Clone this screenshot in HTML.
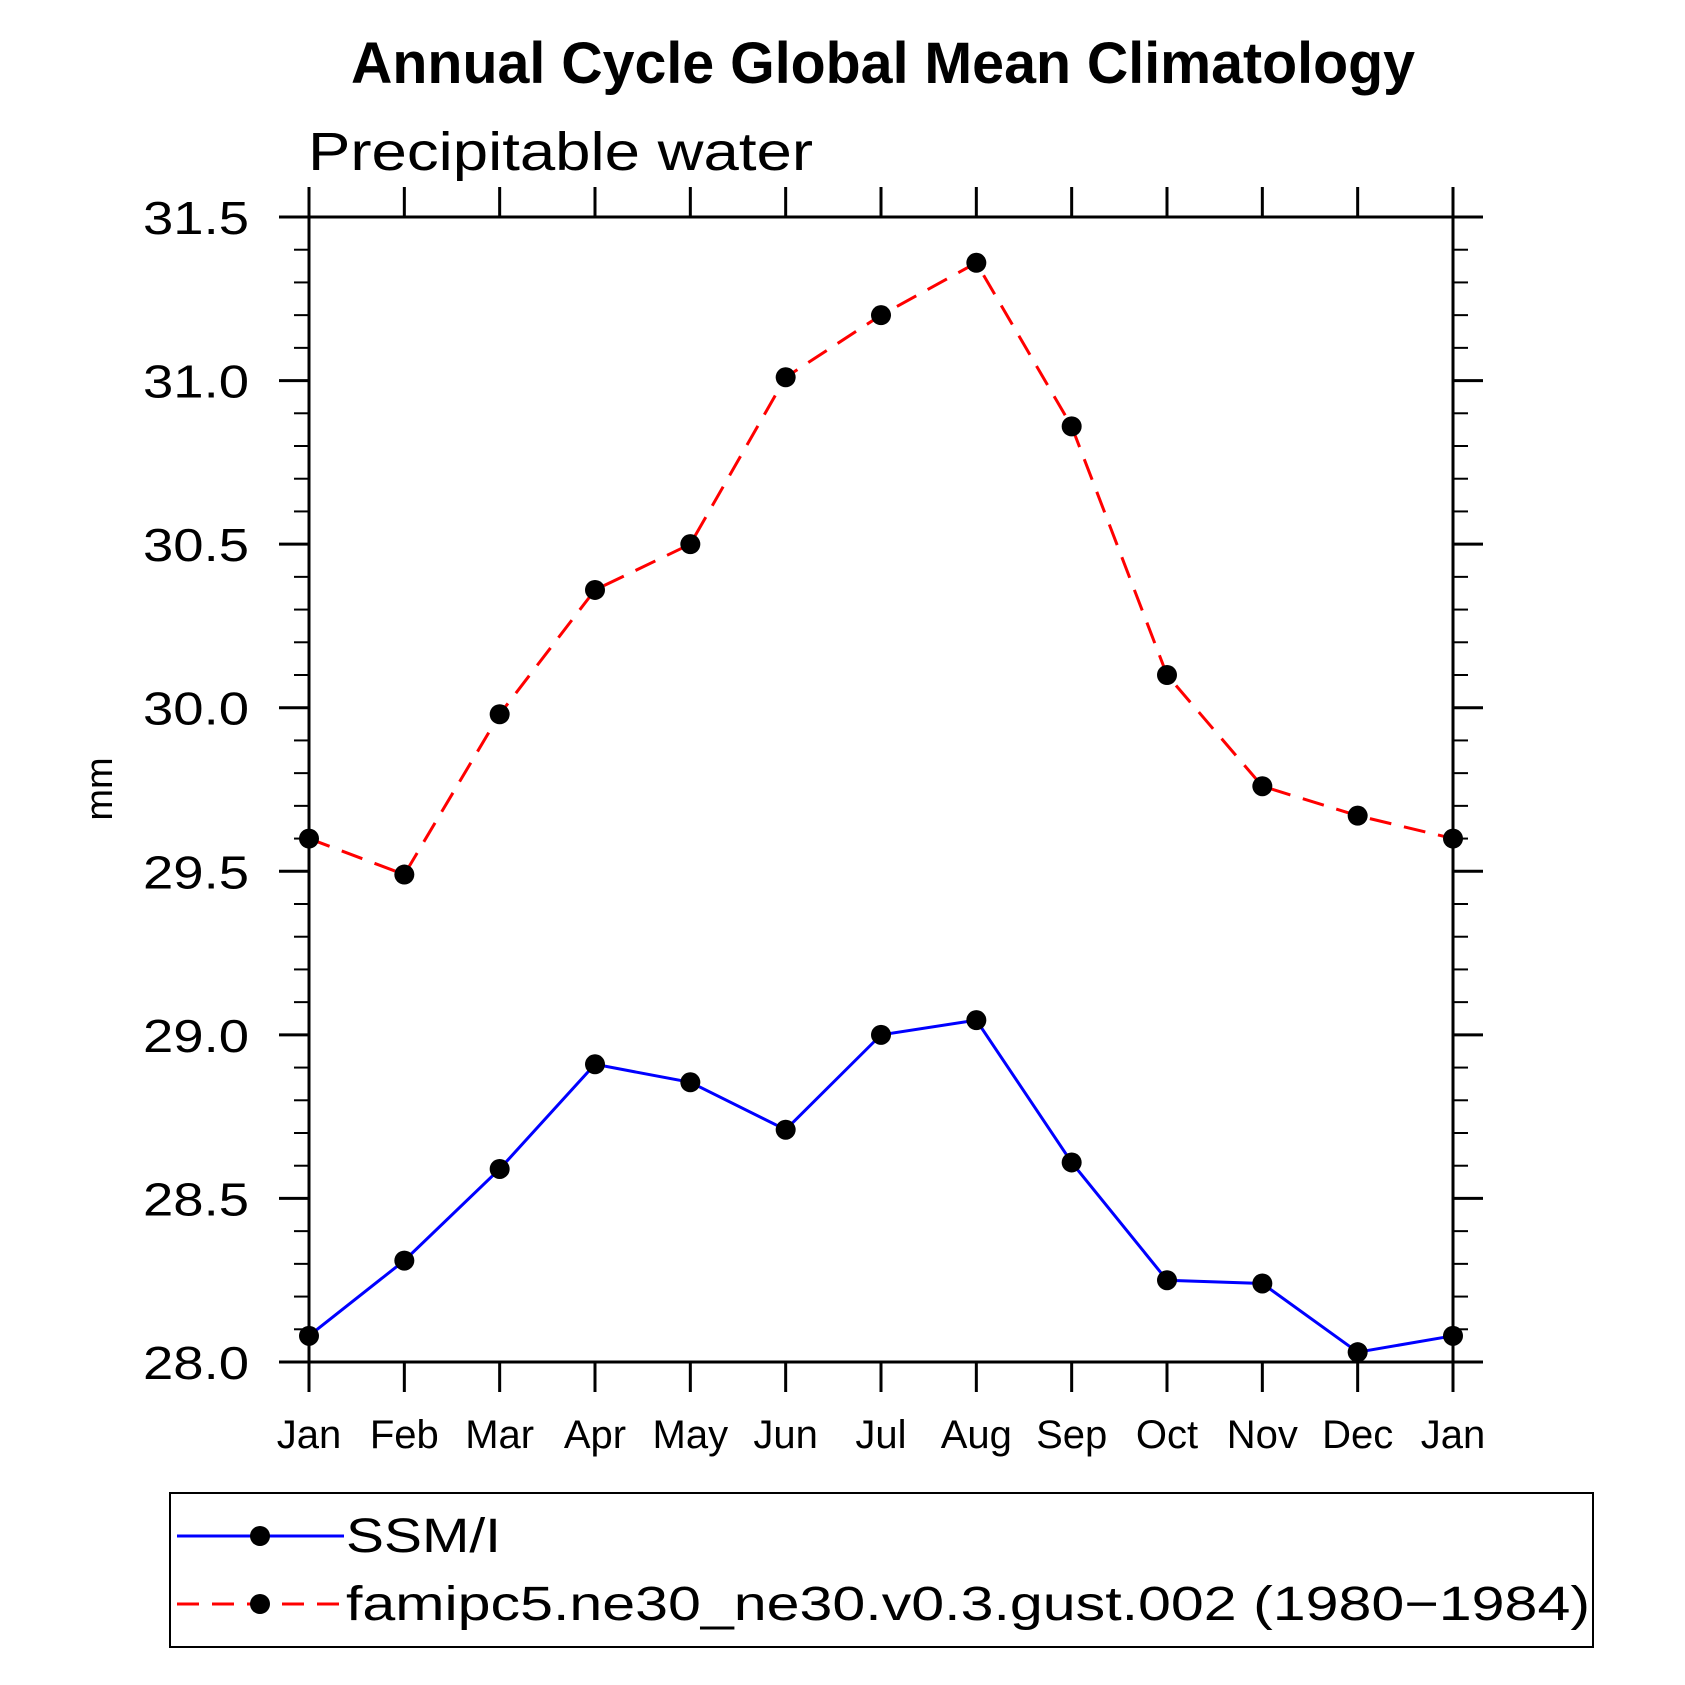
<!DOCTYPE html>
<html><head><meta charset="utf-8"><style>
html,body{margin:0;padding:0;background:#fff;}
svg{display:block;}
text{font-family:"Liberation Sans","DejaVu Sans",sans-serif;fill:#000;}
</style></head><body>
<svg id="chart" width="1685" height="1685" viewBox="0 0 1685 1685" xmlns="http://www.w3.org/2000/svg">
<text x="883" y="83" font-size="58" font-weight="bold" text-anchor="middle" textLength="1064" lengthAdjust="spacingAndGlyphs">Annual Cycle Global Mean Climatology</text>
<text x="308" y="170" font-size="54" textLength="505" lengthAdjust="spacingAndGlyphs" font-weight="300">Precipitable water</text>
<text transform="translate(112,789) rotate(-90)" font-size="38" text-anchor="middle">mm</text>
<g id="axes"></g>
<g id="series"></g>
<g id="legend">
<rect x="170" y="1493" width="1423" height="154" fill="none" stroke="#000" stroke-width="2"/>
<g>
<line x1="177" y1="1536" x2="344" y2="1536" stroke="#0000ff" stroke-width="3"/>
<circle cx="260" cy="1536" r="10" fill="#000"/>
<text x="346" y="1552" font-size="48" textLength="155" lengthAdjust="spacingAndGlyphs">SSM/I</text>
</g>
<g>
<line x1="177" y1="1604" x2="344" y2="1604" stroke="#ff0000" stroke-width="3" stroke-dasharray="22,13"/>
<circle cx="260" cy="1604" r="10" fill="#000"/>
<text x="346" y="1620" font-size="48" textLength="1244" lengthAdjust="spacingAndGlyphs">famipc5.ne30_ne30.v0.3.gust.002 (1980−1984)</text>
</g>
</g>
</svg>
<script>
const months = ["Jan","Feb","Mar","Apr","May","Jun","Jul","Aug","Sep","Oct","Nov","Dec","Jan"];
const ssmiValues = [28.08,28.31,28.59,28.91,28.855,28.71,29.00,29.045,28.61,28.25,28.24,28.03,28.08];
const modelValues = [29.60,29.49,29.98,30.36,30.50,31.01,31.20,31.36,30.86,30.10,29.76,29.67,29.60];
const yTickLabels = ["28.0","28.5","29.0","29.5","30.0","30.5","31.0","31.5"];
const yMin = 28.0, yMax = 31.5;

const NS = "http://www.w3.org/2000/svg";
const L = 309, R = 1453, T = 217, B = 1362;
function xScale(i){ return L + (R - L) * i / (months.length - 1); }
function yScale(v){ return B - (B - T) * (v - yMin) / (yMax - yMin); }
function mk(tag, attrs, parent){
  const e = document.createElementNS(NS, tag);
  for (const k in attrs) e.setAttribute(k, attrs[k]);
  parent.appendChild(e);
  return e;
}
const axes = document.getElementById("axes");
const frame = mk("rect", {x:L, y:T, width:R-L, height:B-T, fill:"none", stroke:"#000", "stroke-width":3}, axes);


mk("line", {x1:L-30, y1:T, x2:R+30, y2:T, stroke:"#000", "stroke-width":3}, axes);
mk("line", {x1:L-30, y1:B, x2:R+30, y2:B, stroke:"#000", "stroke-width":3}, axes);

for (let k = 0; k <= 35; k++) {
  const v = yMin + k * 0.1;
  const y = yScale(v);
  const major = k % 5 === 0;
  const len = major ? 30 : 15;
  mk("line", {x1:L-len, y1:y, x2:L, y2:y, stroke:"#000", "stroke-width": major?3:2}, axes);
  mk("line", {x1:R, y1:y, x2:R+len, y2:y, stroke:"#000", "stroke-width": major?3:2}, axes);
}
yTickLabels.forEach(function(lbl){
  const t = mk("text", {x:249, y:yScale(parseFloat(lbl))+17, "font-size":46, "text-anchor":"end", textLength:106, lengthAdjust:"spacingAndGlyphs"}, axes);
  t.textContent = lbl;
  
  
});
months.forEach(function(m, i){
  const x = xScale(i);
  mk("line", {x1:x, y1:B, x2:x, y2:B+30, stroke:"#000", "stroke-width":3}, axes);
  mk("line", {x1:x, y1:T-30, x2:x, y2:T, stroke:"#000", "stroke-width":3}, axes);
  const t = mk("text", {x:x, y:1448, "font-size":40, "text-anchor":"middle"}, axes);
  t.textContent = m;
  
  
});

const series = document.getElementById("series");
function drawSeries(vals, color, dash, name){
  const g = mk("g", {}, series);
  
  
  const pts = vals.map(function(v,i){ return xScale(i)+","+yScale(v); }).join(" ");
  const pl = mk("polyline", {points:pts, fill:"none", stroke:color, "stroke-width":3}, g);
  if (dash) pl.setAttribute("stroke-dasharray", dash);
  
  
  vals.forEach(function(v,i){
    const c = mk("circle", {cx:xScale(i), cy:yScale(v), r:10, fill:"#000"}, g);
    
    
  });
}
drawSeries(modelValues, "#ff0000", "22,13", "famipc5-series");
drawSeries(ssmiValues, "#0000ff", null, "ssmi-series");
</script>
</body></html>
